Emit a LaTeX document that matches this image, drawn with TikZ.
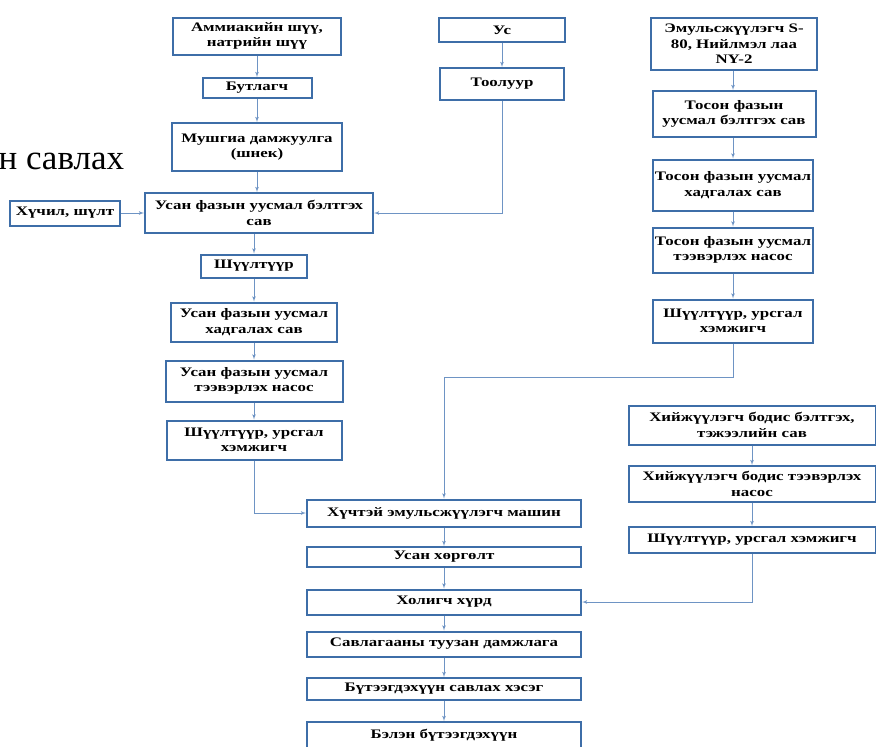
\documentclass[tikz,border=0pt]{standalone}
\usepackage{fontspec}
\setmainfont{Liberation Serif}[FakeStretch=1.3]
\newfontfamily\plainfont{Liberation Serif}
\usetikzlibrary{arrows}
\definecolor{boxblue}{RGB}{62,110,168}
\definecolor{lineblue}{RGB}{110,148,196}

\begin{document}
\begin{tikzpicture}[x=1pt,y=-1pt]
        \tikzset{box/.style = {shape=rectangle,draw=boxblue,line width=2pt,fill=white,align=center,inner sep=1pt,font=\fontsize{13}{15.5}\selectfont\bfseries}};
        \tikzset{link/.style = {->,> = latex',draw=lineblue,line width=0.8pt}};
        \useasboundingbox (0,0) rectangle (876,747);
        \node[anchor=west,font=\plainfont\fontsize{35}{40}\selectfont] (cut) at (-5,161) {н савлах};
        % left column
        \node[box,minimum width=168,minimum height=37] (am) at (257,36) {Аммиакийн шүү,\\натрийн шүү};
        \node[box,minimum width=109,minimum height=20] (bu) at (257,88) {Бутлагч};
        \node[box,minimum width=170,minimum height=48] (mu) at (257,147) {Мушгиа дамжуулга\\(шнек)};
        \node[box,minimum width=228,minimum height=40] (ub) at (259,213) {Усан фазын уусмал бэлтгэх\\сав};
        \node[box,minimum width=110,minimum height=25] (hu) at (65,213) {Хүчил, шүлт};
        \node[box,minimum width=106,minimum height=23] (sh) at (254,266) {Шүүлтүүр};
        \node[box,minimum width=166,minimum height=39] (uh) at (254,322) {Усан фазын уусмал\\хадгалах сав};
        \node[box,minimum width=177,minimum height=41] (ut) at (254,381) {Усан фазын уусмал\\тээвэрлэх насос};
        \node[box,minimum width=175,minimum height=39] (uf) at (254,440) {Шүүлтүүр, урсгал\\хэмжигч};
        % water
        \node[box,minimum width=126,minimum height=24] (us) at (502,30) {Ус};
        \node[box,minimum width=124,minimum height=32] (to) at (502,84) {Тоолуур};
        % oil phase
        \node[box,minimum width=166,minimum height=52] (em) at (734,44) {Эмульсжүүлэгч S-\\80, Нийлмэл лаа\\NY-2};
        \node[box,minimum width=163,minimum height=46] (tb) at (734,114) {Тосон фазын\\уусмал бэлтгэх сав};
        \node[box,minimum width=160,minimum height=51] (th) at (733,185) {Тосон фазын уусмал\\хадгалах сав};
        \node[box,minimum width=160,minimum height=45] (tt) at (733,250) {Тосон фазын уусмал\\тээвэрлэх насос};
        \node[box,minimum width=160,minimum height=43] (tf) at (733,321) {Шүүлтүүр, урсгал\\хэмжигч};
        % gas agent
        \node[box,minimum width=247,minimum height=39] (hb) at (752,425) {Хийжүүлэгч бодис бэлтгэх,\\тэжээлийн сав};
        \node[box,minimum width=247,minimum height=36] (ht) at (752,484) {Хийжүүлэгч бодис тээвэрлэх\\насос};
        \node[box,minimum width=247,minimum height=26] (hf) at (752,540) {Шүүлтүүр, урсгал хэмжигч};
        % main line
        \node[box,minimum width=274,minimum height=27] (ma) at (444,513) {Хүчтэй эмульсжүүлэгч машин};
        \node[box,minimum width=274,minimum height=20] (ho) at (444,557) {Усан хөргөлт};
        \node[box,minimum width=274,minimum height=25] (hr) at (444,602) {Холигч хүрд};
        \node[box,minimum width=274,minimum height=25] (sa) at (444,644) {Савлагааны туузан дамжлага};
        \node[box,minimum width=274,minimum height=22] (bs) at (444,689) {Бүтээгдэхүүн савлах хэсэг};
        \node[box,minimum width=274,minimum height=26] (be) at (444,735) {Бэлэн бүтээгдэхүүн};
        \coordinate (bend) at (444,377);
        \draw[link] (am) to (bu);
        \draw[link] (bu) to (mu);
        \draw[link] (mu.south) to (mu.south |- ub.north);
        \draw[link] (hu) to (ub);
        \draw[link] (us) to (to);
        \draw[link] (to) |- (ub);
        \draw[link] (sh |- ub.south) to (sh);
        \draw[link] (sh) to (uh);
        \draw[link] (uh) to (ut);
        \draw[link] (ut) to (uf);
        \draw[link] (uf) |- (ma);
        \draw[link] (em.south -| tf) to (tb.north -| tf);
        \draw[link] (tb.south -| tf) to (th);
        \draw[link] (th) to (tt);
        \draw[link] (tt) to (tf);
        \draw[link] (tf) |- (bend) -- (ma);
        \draw[link] (hb) to (ht);
        \draw[link] (ht) to (hf);
        \draw[link] (hf) |- (hr);
        \draw[link] (ma) to (ho);
        \draw[link] (ho) to (hr);
        \draw[link] (hr) to (sa);
        \draw[link] (sa) to (bs);
        \draw[link] (bs) to (be);
\end{tikzpicture}
\end{document}
